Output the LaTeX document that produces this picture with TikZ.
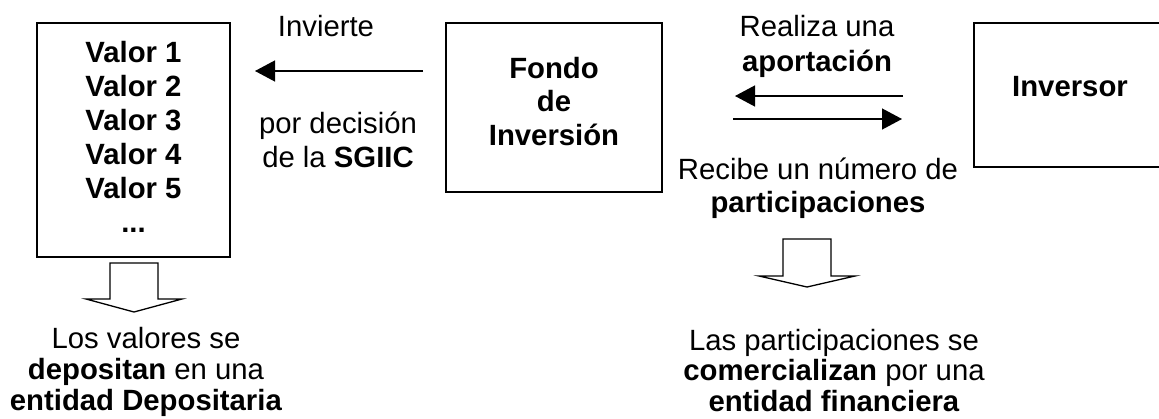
\documentclass[tikz,border=0pt]{standalone}
\usepackage{fontspec}
\setmainfont{Liberation Sans}
\usetikzlibrary{arrows.meta}
\tikzset{
  box/.style={draw, line width=1.6pt, inner sep=0pt},
  txt/.style={font=\fontsize{29.3}{34}\selectfont, align=center, inner sep=0pt},
  txtb/.style={font=\fontsize{29.3}{34}\selectfont\bfseries, align=center, inner sep=0pt},
  arr/.style={line width=1.3pt, -{Triangle[length=20pt,width=21pt]}},
  blockarr/.style={draw, line width=1.3pt, line join=miter, fill=white}
}
\begin{document}
\begin{tikzpicture}[x=1pt,y=-1pt]
\useasboundingbox (0,0) rectangle (1159,418);
\clip (0,0) rectangle (1159,418);
% boxes
\node[box, minimum width=193pt, minimum height=234pt] (valores) at (133.5,140) {};
\node[box, minimum width=216pt, minimum height=169pt] (fondo) at (554,107.5) {};
\node[box, minimum width=192pt, minimum height=144pt] (inversor) at (1070,95) {};
% box texts
\node[txtb, anchor=north] (valtxt) at (133.5,40.6) {Valor 1\\Valor 2\\Valor 3\\Valor 4\\Valor 5\\...};
\node[txtb, anchor=north, font=\fontsize{29.3}{33.5}\selectfont\bfseries] (fondotxt) at (554,56.6) {Fondo\\de\\Inversión};
\node[txtb, anchor=base] (invtxt) at (1070,96) {Inversor};
% labels
\node[txt, anchor=base] (invierte) at (326,36) {Invierte};
\node[txt, anchor=north] (decision) at (338,111.3) {por decisión\\de la \textbf{SGIIC}};
\node[txt, anchor=north, font=\fontsize{29.3}{35}\selectfont] (realiza) at (817,14.6) {Realiza una\\\textbf{aportación}};
\node[txt, anchor=north, font=\fontsize{29.3}{33}\selectfont] (recibe) at (818,158.2) {Recibe un número de\\\textbf{participaciones}};
\node[txt, anchor=north, font=\fontsize{29.3}{31}\selectfont] (deposita) at (146,326.6) {Los valores se\\\textbf{depositan} en una\\\textbf{entidad Depositaria}};
\node[txt, anchor=north, font=\fontsize{29.3}{30.5}\selectfont] (comercial) at (834,328.6) {Las participaciones se\\\textbf{comercializan} por una\\\textbf{entidad financiera}};
% arrows
\coordinate (invS) at (423,71);
\coordinate (invE) at (255,71);
\draw[arr] (invS) -- (invE);
\coordinate (apS) at (903,96);
\coordinate (apE) at (735,96);
\draw[arr] (apS) -- (apE);
\coordinate (paS) at (733,119);
\coordinate (paE) at (902,119);
\draw[arr] (paS) -- (paE);
% block arrows
\coordinate (ba1) at (134,263);
\draw[blockarr] (ba1) +(-24,0) -- +(-24,36) -- +(-48,36) -- +(0,49) -- +(48,36) -- +(24,36) -- +(24,0) -- cycle;
\coordinate (ba2) at (807,239);
\draw[blockarr] (ba2) +(-24,0) -- +(-24,37) -- +(-48,37) -- +(0,48) -- +(48,37) -- +(24,37) -- +(24,0) -- cycle;
\end{tikzpicture}
\end{document}
